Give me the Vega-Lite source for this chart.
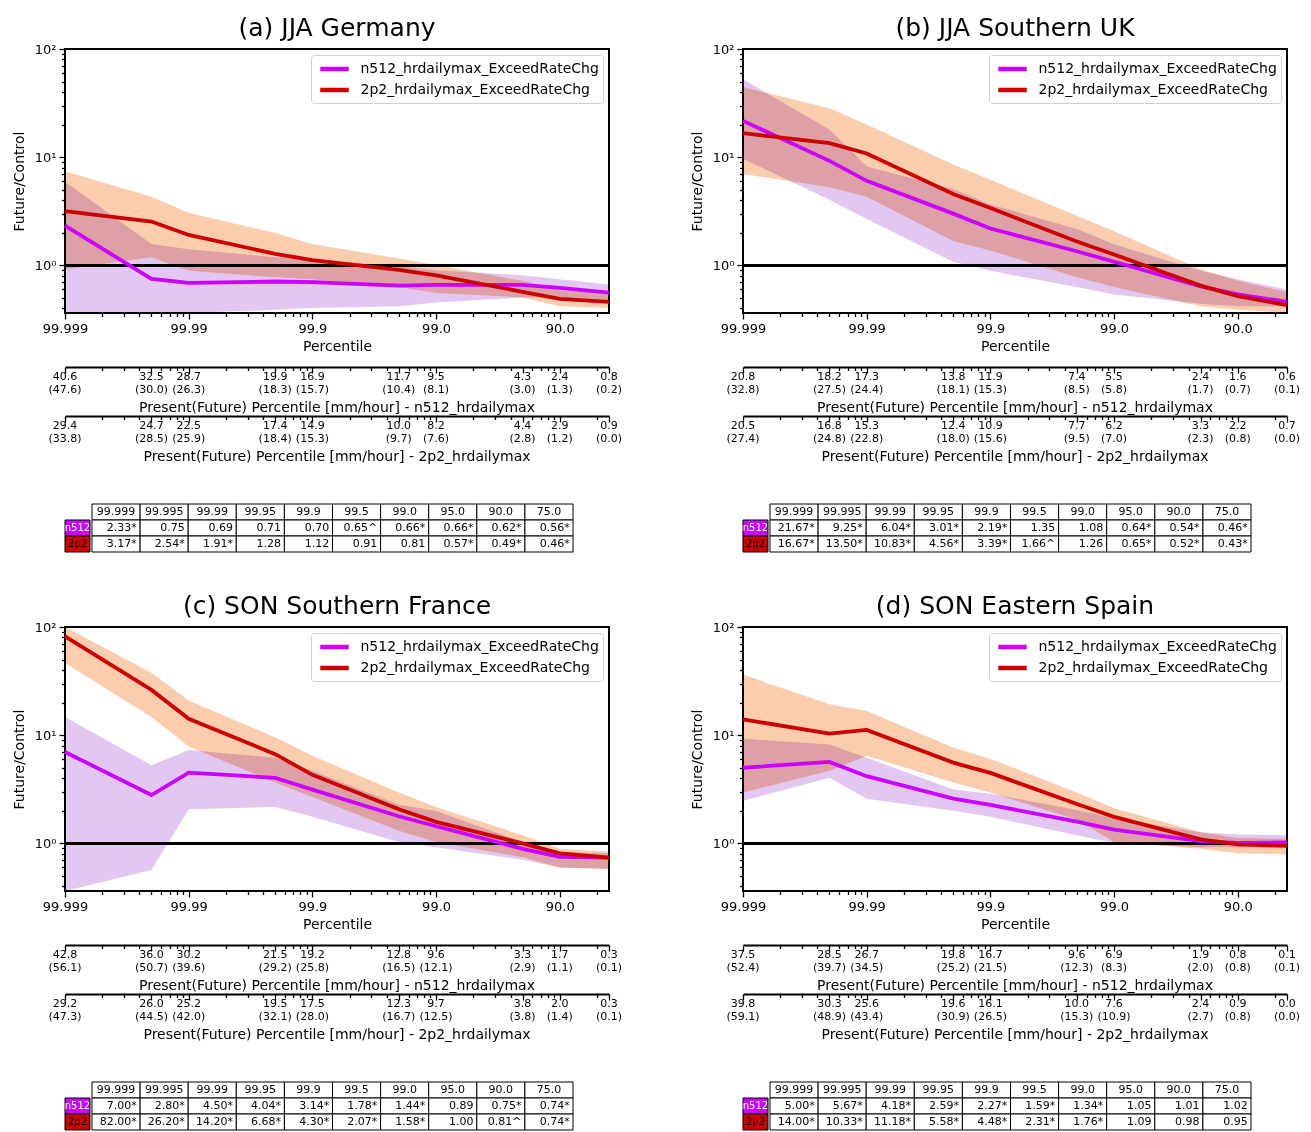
{
"$schema": "https://vega.github.io/schema/vega-lite/v6.json",
"background": "white",
"padding": {"left": 11, "top": 15, "right": 5, "bottom": 2},
"config": {
  "font": "DejaVu Sans",
  "view": {"stroke": null},
  "axis": {"labelFont": "DejaVu Sans", "titleFont": "DejaVu Sans", "labelColor": "black", "titleColor": "black", "tickColor": "black", "domainColor": "black", "grid": false, "titleFontWeight": "normal", "labelOverlap": false, "labelBound": false, "labelFlush": false},
  "title": {"font": "DejaVu Sans", "fontWeight": "normal", "color": "black"},
  "text": {"font": "DejaVu Sans", "color": "black"},
  "legend": {"labelFont": "DejaVu Sans", "labelColor": "black"}
},
"datasets": {"curves": [
{"panel":"a","model":"n512","pct":"99.999","exc":0.001,"ratio":2.33,"sig":"*","lo":0.305,"hi":5.94,"present":40.6,"future":47.6},
{"panel":"a","model":"n512","pct":"99.995","exc":0.005,"ratio":0.75,"sig":"","lo":0.293,"hi":1.58,"present":32.5,"future":30.0},
{"panel":"a","model":"n512","pct":"99.99","exc":0.01,"ratio":0.69,"sig":"","lo":0.305,"hi":1.41,"present":28.7,"future":26.3},
{"panel":"a","model":"n512","pct":"99.95","exc":0.05,"ratio":0.71,"sig":"","lo":0.388,"hi":1.19,"present":19.9,"future":18.3},
{"panel":"a","model":"n512","pct":"99.9","exc":0.1,"ratio":0.70,"sig":"","lo":0.404,"hi":1.12,"present":16.9,"future":15.7},
{"panel":"a","model":"n512","pct":"99.5","exc":0.5,"ratio":0.65,"sig":"^","lo":0.42,"hi":0.986,"present":11.7,"future":10.4},
{"panel":"a","model":"n512","pct":"99.0","exc":1,"ratio":0.66,"sig":"*","lo":0.454,"hi":0.90,"present":9.5,"future":8.1},
{"panel":"a","model":"n512","pct":"95.0","exc":5,"ratio":0.66,"sig":"*","lo":0.506,"hi":0.81,"present":4.3,"future":3.0},
{"panel":"a","model":"n512","pct":"90.0","exc":10,"ratio":0.62,"sig":"*","lo":0.506,"hi":0.745,"present":2.4,"future":1.3},
{"panel":"a","model":"n512","pct":"75.0","exc":25,"ratio":0.56,"sig":"*","lo":0.473,"hi":0.667,"present":0.8,"future":0.2},
{"panel":"a","model":"2p2","pct":"99.999","exc":0.001,"ratio":3.17,"sig":"*","lo":0.92,"hi":7.4,"present":29.4,"future":33.8},
{"panel":"a","model":"2p2","pct":"99.995","exc":0.005,"ratio":2.54,"sig":"*","lo":1.19,"hi":4.30,"present":24.7,"future":28.5},
{"panel":"a","model":"2p2","pct":"99.99","exc":0.01,"ratio":1.91,"sig":"*","lo":0.89,"hi":3.07,"present":22.5,"future":25.9},
{"panel":"a","model":"2p2","pct":"99.95","exc":0.05,"ratio":1.28,"sig":"","lo":0.776,"hi":1.99,"present":17.4,"future":18.4},
{"panel":"a","model":"2p2","pct":"99.9","exc":0.1,"ratio":1.12,"sig":"","lo":0.745,"hi":1.58,"present":14.9,"future":15.3},
{"panel":"a","model":"2p2","pct":"99.5","exc":0.5,"ratio":0.91,"sig":"","lo":0.63,"hi":1.16,"present":10.0,"future":9.7},
{"panel":"a","model":"2p2","pct":"99.0","exc":1,"ratio":0.81,"sig":"","lo":0.555,"hi":1.01,"present":8.2,"future":7.6},
{"panel":"a","model":"2p2","pct":"95.0","exc":5,"ratio":0.57,"sig":"*","lo":0.506,"hi":0.72,"present":4.4,"future":2.8},
{"panel":"a","model":"2p2","pct":"90.0","exc":10,"ratio":0.49,"sig":"*","lo":0.42,"hi":0.586,"present":2.9,"future":1.2},
{"panel":"a","model":"2p2","pct":"75.0","exc":25,"ratio":0.46,"sig":"*","lo":0.404,"hi":0.555,"present":0.9,"future":0.0},
{"panel":"b","model":"n512","pct":"99.999","exc":0.001,"ratio":21.67,"sig":"*","lo":9.68,"hi":52.4,"present":20.8,"future":32.8},
{"panel":"b","model":"n512","pct":"99.995","exc":0.005,"ratio":9.25,"sig":"*","lo":4.04,"hi":18.0,"present":18.2,"future":27.5},
{"panel":"b","model":"n512","pct":"99.99","exc":0.01,"ratio":6.04,"sig":"*","lo":2.69,"hi":8.2,"present":17.3,"future":24.4},
{"panel":"b","model":"n512","pct":"99.95","exc":0.05,"ratio":3.01,"sig":"*","lo":1.08,"hi":5.08,"present":13.8,"future":18.1},
{"panel":"b","model":"n512","pct":"99.9","exc":0.1,"ratio":2.19,"sig":"*","lo":0.89,"hi":3.66,"present":11.9,"future":15.3},
{"panel":"b","model":"n512","pct":"99.5","exc":0.5,"ratio":1.35,"sig":"","lo":0.63,"hi":2.17,"present":7.4,"future":8.5},
{"panel":"b","model":"n512","pct":"99.0","exc":1,"ratio":1.08,"sig":"","lo":0.537,"hi":1.57,"present":5.5,"future":5.8},
{"panel":"b","model":"n512","pct":"95.0","exc":5,"ratio":0.64,"sig":"*","lo":0.443,"hi":0.89,"present":2.4,"future":1.7},
{"panel":"b","model":"n512","pct":"90.0","exc":10,"ratio":0.54,"sig":"*","lo":0.42,"hi":0.745,"present":1.6,"future":0.7},
{"panel":"b","model":"n512","pct":"75.0","exc":25,"ratio":0.46,"sig":"*","lo":0.42,"hi":0.598,"present":0.6,"future":0.1},
{"panel":"b","model":"2p2","pct":"99.999","exc":0.001,"ratio":16.67,"sig":"*","lo":7.0,"hi":44.5,"present":20.5,"future":27.4},
{"panel":"b","model":"2p2","pct":"99.995","exc":0.005,"ratio":13.50,"sig":"*","lo":5.28,"hi":28.4,"present":16.8,"future":24.8},
{"panel":"b","model":"2p2","pct":"99.99","exc":0.01,"ratio":10.83,"sig":"*","lo":4.30,"hi":20.1,"present":15.3,"future":22.8},
{"panel":"b","model":"2p2","pct":"99.95","exc":0.05,"ratio":4.56,"sig":"*","lo":1.68,"hi":8.54,"present":12.4,"future":18.0},
{"panel":"b","model":"2p2","pct":"99.9","exc":0.1,"ratio":3.39,"sig":"*","lo":1.37,"hi":6.19,"present":10.9,"future":15.6},
{"panel":"b","model":"2p2","pct":"99.5","exc":0.5,"ratio":1.66,"sig":"^","lo":0.776,"hi":2.88,"present":7.7,"future":9.5},
{"panel":"b","model":"2p2","pct":"99.0","exc":1,"ratio":1.26,"sig":"","lo":0.63,"hi":2.07,"present":6.2,"future":7.0},
{"panel":"b","model":"2p2","pct":"95.0","exc":5,"ratio":0.65,"sig":"*","lo":0.42,"hi":0.92,"present":3.3,"future":2.3},
{"panel":"b","model":"2p2","pct":"90.0","exc":10,"ratio":0.52,"sig":"*","lo":0.388,"hi":0.72,"present":2.2,"future":0.8},
{"panel":"b","model":"2p2","pct":"75.0","exc":25,"ratio":0.43,"sig":"*","lo":0.366,"hi":0.567,"present":0.7,"future":0.0},
{"panel":"c","model":"n512","pct":"99.999","exc":0.001,"ratio":7.00,"sig":"*","lo":0.27,"hi":14.7,"present":42.8,"future":56.1},
{"panel":"c","model":"n512","pct":"99.995","exc":0.005,"ratio":2.80,"sig":"*","lo":0.567,"hi":5.28,"present":36.0,"future":50.7},
{"panel":"c","model":"n512","pct":"99.99","exc":0.01,"ratio":4.50,"sig":"*","lo":2.07,"hi":7.28,"present":30.2,"future":39.6},
{"panel":"c","model":"n512","pct":"99.95","exc":0.05,"ratio":4.04,"sig":"*","lo":2.17,"hi":6.19,"present":21.5,"future":29.2},
{"panel":"c","model":"n512","pct":"99.9","exc":0.1,"ratio":3.14,"sig":"*","lo":1.76,"hi":4.68,"present":19.2,"future":25.8},
{"panel":"c","model":"n512","pct":"99.5","exc":0.5,"ratio":1.78,"sig":"*","lo":1.03,"hi":2.27,"present":12.8,"future":16.5},
{"panel":"c","model":"n512","pct":"99.0","exc":1,"ratio":1.44,"sig":"*","lo":0.92,"hi":1.99,"present":9.6,"future":12.1},
{"panel":"c","model":"n512","pct":"95.0","exc":5,"ratio":0.89,"sig":"","lo":0.705,"hi":1.03,"present":3.3,"future":2.9},
{"panel":"c","model":"n512","pct":"90.0","exc":10,"ratio":0.75,"sig":"*","lo":0.598,"hi":0.836,"present":1.7,"future":1.1},
{"panel":"c","model":"n512","pct":"75.0","exc":25,"ratio":0.74,"sig":"*","lo":0.58,"hi":0.81,"present":0.3,"future":0.1},
{"panel":"c","model":"2p2","pct":"99.999","exc":0.001,"ratio":82.00,"sig":"*","lo":46.4,"hi":107,"present":29.2,"future":47.3},
{"panel":"c","model":"2p2","pct":"99.995","exc":0.005,"ratio":26.20,"sig":"*","lo":14.7,"hi":37.8,"present":26.0,"future":44.5},
{"panel":"c","model":"2p2","pct":"99.99","exc":0.01,"ratio":14.20,"sig":"*","lo":7.88,"hi":20.9,"present":25.2,"future":42.0},
{"panel":"c","model":"2p2","pct":"99.95","exc":0.05,"ratio":6.68,"sig":"*","lo":3.66,"hi":9.55,"present":19.5,"future":32.1},
{"panel":"c","model":"2p2","pct":"99.9","exc":0.1,"ratio":4.30,"sig":"*","lo":2.69,"hi":6.45,"present":17.5,"future":28.0},
{"panel":"c","model":"2p2","pct":"99.5","exc":0.5,"ratio":2.07,"sig":"*","lo":1.31,"hi":2.96,"present":12.3,"future":16.7},
{"panel":"c","model":"2p2","pct":"99.0","exc":1,"ratio":1.58,"sig":"*","lo":1.03,"hi":2.17,"present":9.7,"future":12.5},
{"panel":"c","model":"2p2","pct":"95.0","exc":5,"ratio":1.00,"sig":"","lo":0.745,"hi":1.19,"present":3.8,"future":3.8},
{"panel":"c","model":"2p2","pct":"90.0","exc":10,"ratio":0.81,"sig":"^","lo":0.598,"hi":0.89,"present":2.0,"future":1.4},
{"panel":"c","model":"2p2","pct":"75.0","exc":25,"ratio":0.74,"sig":"*","lo":0.58,"hi":0.836,"present":0.3,"future":0.1},
{"panel":"d","model":"n512","pct":"99.999","exc":0.001,"ratio":5.00,"sig":"*","lo":2.47,"hi":9.25,"present":37.5,"future":52.4},
{"panel":"d","model":"n512","pct":"99.995","exc":0.005,"ratio":5.67,"sig":"*","lo":4.04,"hi":8.2,"present":28.5,"future":39.7},
{"panel":"d","model":"n512","pct":"99.99","exc":0.01,"ratio":4.18,"sig":"*","lo":2.58,"hi":6.19,"present":26.7,"future":34.5},
{"panel":"d","model":"n512","pct":"99.95","exc":0.05,"ratio":2.59,"sig":"*","lo":2.0,"hi":3.15,"present":19.8,"future":25.2},
{"panel":"d","model":"n512","pct":"99.9","exc":0.1,"ratio":2.27,"sig":"*","lo":1.76,"hi":2.88,"present":16.7,"future":21.5},
{"panel":"d","model":"n512","pct":"99.5","exc":0.5,"ratio":1.59,"sig":"*","lo":1.19,"hi":2.03,"present":9.6,"future":12.3},
{"panel":"d","model":"n512","pct":"99.0","exc":1,"ratio":1.34,"sig":"*","lo":1.01,"hi":1.71,"present":6.9,"future":8.3},
{"panel":"d","model":"n512","pct":"95.0","exc":5,"ratio":1.05,"sig":"","lo":0.92,"hi":1.27,"present":1.9,"future":2.0},
{"panel":"d","model":"n512","pct":"90.0","exc":10,"ratio":1.01,"sig":"","lo":0.92,"hi":1.21,"present":0.8,"future":0.8},
{"panel":"d","model":"n512","pct":"75.0","exc":25,"ratio":1.02,"sig":"","lo":0.92,"hi":1.19,"present":0.1,"future":0.1},
{"panel":"d","model":"2p2","pct":"99.999","exc":0.001,"ratio":14.00,"sig":"*","lo":2.96,"hi":36.3,"present":39.8,"future":59.1},
{"panel":"d","model":"2p2","pct":"99.995","exc":0.005,"ratio":10.33,"sig":"*","lo":4.68,"hi":19.3,"present":30.3,"future":48.9},
{"panel":"d","model":"2p2","pct":"99.99","exc":0.01,"ratio":11.18,"sig":"*","lo":6.45,"hi":16.7,"present":25.6,"future":43.4},
{"panel":"d","model":"2p2","pct":"99.95","exc":0.05,"ratio":5.58,"sig":"*","lo":3.66,"hi":7.7,"present":19.6,"future":30.9},
{"panel":"d","model":"2p2","pct":"99.9","exc":0.1,"ratio":4.48,"sig":"*","lo":2.96,"hi":6.04,"present":16.1,"future":26.5},
{"panel":"d","model":"2p2","pct":"99.5","exc":0.5,"ratio":2.31,"sig":"*","lo":1.65,"hi":2.96,"present":10.0,"future":15.3},
{"panel":"d","model":"2p2","pct":"99.0","exc":1,"ratio":1.76,"sig":"*","lo":1.03,"hi":2.11,"present":7.6,"future":10.9},
{"panel":"d","model":"2p2","pct":"95.0","exc":5,"ratio":1.09,"sig":"","lo":0.89,"hi":1.27,"present":2.4,"future":2.7},
{"panel":"d","model":"2p2","pct":"90.0","exc":10,"ratio":0.98,"sig":"","lo":0.81,"hi":1.12,"present":0.9,"future":0.8},
{"panel":"d","model":"2p2","pct":"75.0","exc":25,"ratio":0.95,"sig":"","lo":0.79,"hi":1.10,"present":0.0,"future":0.0}
]},
"vconcat": [
 {"hconcat": [
  {"vconcat": [
   {"width": 544, "height": 264,
    "title": {"text": "(a) JJA Germany", "fontSize": 25, "offset": 2},
    "view": {"stroke": "black", "strokeWidth": 2},
    "data": {"name": "curves"},
    "transform": [{"filter": "datum.panel == 'a'"}],
    "layer": [
     {"transform": [{"filter": "datum.model == 'n512'"}],
      "mark": {"type": "area", "color": "#e2c8f0", "blend": "multiply"},
      "encoding": {
       "x": {"field": "exc", "type": "quantitative", "title": "Percentile", "scale": {"type": "log", "domain": [0.001, 25], "nice": false},
             "axis": {"values": [0.001,0.002,0.003,0.004,0.005,0.006,0.007,0.008,0.009,0.01,0.02,0.03,0.04,0.05,0.06,0.07,0.08,0.09,0.1,0.2,0.3,0.4,0.5,0.6,0.7,0.8,0.9,1,2,3,4,5,6,7,8,9,10,20],
                      "labelExpr": "datum.value == 0.001 ? '99.999' : datum.value == 0.01 ? '99.99' : datum.value == 0.1 ? '99.9' : datum.value == 1 ? '99.0' : datum.value == 10 ? '90.0' : ''",
                      "tickSize": {"condition": {"test": "datum.value == 0.001 || datum.value == 0.01 || datum.value == 0.1 || datum.value == 1 || datum.value == 10", "value": 6}, "value": 3.5},
                      "tickWidth": 1.3, "domain": false, "labelFontSize": 13, "titleFontSize": 14, "labelPadding": 3, "titlePadding": 4}},
       "y": {"field": "lo", "type": "quantitative", "title": "Future/Control", "scale": {"type": "log", "domain": [0.363, 100], "nice": false, "clamp": true},
             "axis": {"values": [0.4,0.5,0.6,0.7,0.8,0.9,1,2,3,4,5,6,7,8,9,10,20,30,40,50,60,70,80,90,100],
                      "labelExpr": "datum.value == 1 ? '10⁰' : datum.value == 10 ? '10¹' : datum.value == 100 ? '10²' : ''",
                      "tickSize": {"condition": {"test": "datum.value == 1 || datum.value == 10 || datum.value == 100", "value": 6}, "value": 3.5},
                      "tickWidth": 1.3, "domain": false, "labelFontSize": 13, "titleFontSize": 14, "labelPadding": 3, "titlePadding": 8}},
       "y2": {"field": "hi"}}},
     {"transform": [{"filter": "datum.model == '2p2'"}],
      "mark": {"type": "area", "color": "#facdaf", "blend": "multiply"},
      "encoding": {"x": {"field": "exc", "type": "quantitative", "title": "Percentile"}, "y": {"field": "lo", "type": "quantitative", "title": "Future/Control"}, "y2": {"field": "hi"}}},
     {"mark": {"type": "rule", "color": "black", "strokeWidth": 2.5}, "encoding": {"y": {"datum": 1, "type": "quantitative"}}},
     {"mark": {"type": "line", "strokeWidth": 3.8},
      "encoding": {"x": {"field": "exc", "type": "quantitative", "title": "Percentile"}, "y": {"field": "ratio", "type": "quantitative", "title": "Future/Control"},
       "color": {"field": "model", "type": "nominal", "scale": {"domain": ["n512", "2p2"], "range": ["#cc00ff", "#cc0000"]},
                 "legend": {"orient": "top-right", "title": null, "offset": 6, "labelExpr": "datum.label + '_hrdailymax_ExceedRateChg'", "labelFontSize": 14, "labelLimit": 400, "symbolType": "M-1.9,0H1.9", "symbolStrokeWidth": 4.5, "symbolSize": 225, "symbolOffset": 9.5, "strokeColor": "#d0d0d0", "fillColor": "white", "padding": 4, "cornerRadius": 3, "rowPadding": 2, "labelOffset": 16}}}}
    ]},
   {"vconcat": [
    {"vconcat": [
     {"width": 544, "height": 32.5,
      "title": {"text": "Present(Future) Percentile [mm/hour] - n512_hrdailymax", "orient": "bottom", "fontSize": 14, "offset": 1},
      "data": {"name": "curves"},
      "transform": [{"filter": "datum.panel == 'a' && datum.model == 'n512'"}],
      "layer": [
       {"mark": {"type": "text", "fontSize": 11},
        "encoding": {
         "x": {"field": "exc", "type": "quantitative", "scale": {"type": "log", "domain": [0.001, 25], "nice": false},
               "axis": {"orient": "top", "values": [0.001,0.002,0.003,0.004,0.005,0.006,0.007,0.008,0.009,0.01,0.02,0.03,0.04,0.05,0.06,0.07,0.08,0.09,0.1,0.2,0.3,0.4,0.5,0.6,0.7,0.8,0.9,1,2,3,4,5,6,7,8,9,10,20,25],
                        "labels": false, "title": null, "domain": true, "domainWidth": 2, "tickWidth": 1.3,
                        "tickSize": {"condition": {"test": "indexof([0.001,0.005,0.01,0.05,0.1,0.5,1,5,10,25], datum.value) >= 0", "value": -6}, "value": -3.5}}},
         "y": {"datum": "present", "type": "nominal", "scale": {"type": "point", "domain": ["present", "future"], "padding": 0.75}, "axis": null},
         "text": {"field": "present", "type": "quantitative", "format": ".1f"}}},
       {"mark": {"type": "text", "fontSize": 11, "text": {"expr": "'(' + format(datum.future, '.1f') + ')'"}},
        "encoding": {"x": {"field": "exc", "type": "quantitative"}, "y": {"datum": "future", "type": "nominal"}}}
      ]},
     {"width": 544, "height": 32.5,
      "title": {"text": "Present(Future) Percentile [mm/hour] - 2p2_hrdailymax", "orient": "bottom", "fontSize": 14, "offset": 1},
      "data": {"name": "curves"},
      "transform": [{"filter": "datum.panel == 'a' && datum.model == '2p2'"}],
      "layer": [
       {"mark": {"type": "text", "fontSize": 11},
        "encoding": {
         "x": {"field": "exc", "type": "quantitative", "scale": {"type": "log", "domain": [0.001, 25], "nice": false},
               "axis": {"orient": "top", "values": [0.001,0.002,0.003,0.004,0.005,0.006,0.007,0.008,0.009,0.01,0.02,0.03,0.04,0.05,0.06,0.07,0.08,0.09,0.1,0.2,0.3,0.4,0.5,0.6,0.7,0.8,0.9,1,2,3,4,5,6,7,8,9,10,20,25],
                        "labels": false, "title": null, "domain": true, "domainWidth": 2, "tickWidth": 1.3,
                        "tickSize": {"condition": {"test": "indexof([0.001,0.005,0.01,0.05,0.1,0.5,1,5,10,25], datum.value) >= 0", "value": -6}, "value": -3.5}}},
         "y": {"datum": "present", "type": "nominal", "scale": {"type": "point", "domain": ["present", "future"], "padding": 0.75}, "axis": null},
         "text": {"field": "present", "type": "quantitative", "format": ".1f"}}},
       {"mark": {"type": "text", "fontSize": 11, "text": {"expr": "'(' + format(datum.future, '.1f') + ')'"}},
        "encoding": {"x": {"field": "exc", "type": "quantitative"}, "y": {"datum": "future", "type": "nominal"}}}
      ]}
    ], "spacing": 0},
    {"hconcat": [
     {"width": 25, "height": 48,
      "data": {"name": "curves"},
      "transform": [{"filter": "datum.panel == 'a' && datum.pct == '99.999'"}],
      "encoding": {"y": {"field": "model", "type": "nominal", "scale": {"type": "band", "domain": ["hdr", "n512", "2p2"], "paddingInner": 0, "paddingOuter": 0}, "axis": null}},
      "layer": [
       {"mark": {"type": "rect", "stroke": "black", "strokeWidth": 1}, "encoding": {"fill": {"field": "model", "type": "nominal", "scale": {"domain": ["n512", "2p2"], "range": ["#cc00ff", "#cc0000"]}, "legend": null}}},
       {"mark": {"type": "text", "fontSize": 10}, "encoding": {"text": {"field": "model", "type": "nominal"}, "color": {"field": "model", "type": "nominal", "scale": {"domain": ["n512", "2p2"], "range": ["#ffffff", "#000000"]}, "legend": null}}}
      ]},
     {"width": 481, "height": 48,
      "data": {"name": "curves"},
      "transform": [{"filter": "datum.panel == 'a'"}],
      "encoding": {"x": {"field": "pct", "type": "ordinal", "sort": ["99.999","99.995","99.99","99.95","99.9","99.5","99.0","95.0","90.0","75.0"], "scale": {"paddingInner": 0, "paddingOuter": 0}, "axis": null}},
      "layer": [
       {"transform": [{"filter": "datum.model == 'n512'"}], "mark": {"type": "rect", "fill": "white", "stroke": "black", "strokeWidth": 1},
        "encoding": {"y": {"datum": "hdr", "type": "nominal", "scale": {"type": "band", "domain": ["hdr", "n512", "2p2"], "paddingInner": 0, "paddingOuter": 0}, "axis": null}}},
       {"transform": [{"filter": "datum.model == 'n512'"}], "mark": {"type": "text", "fontSize": 11},
        "encoding": {"y": {"datum": "hdr", "type": "nominal"}, "text": {"field": "pct", "type": "nominal"}}},
       {"mark": {"type": "rect", "fill": "white", "stroke": "black", "strokeWidth": 1}, "encoding": {"y": {"field": "model", "type": "nominal"}}},
       {"mark": {"type": "text", "fontSize": 11, "align": "right", "text": {"expr": "format(datum.ratio, '.2f') + datum.sig"}},
        "encoding": {"y": {"field": "model", "type": "nominal"}, "x": {"field": "pct", "type": "ordinal", "sort": ["99.999","99.995","99.99","99.95","99.9","99.5","99.0","95.0","90.0","75.0"], "bandPosition": 0.93}}}
      ]}
    ], "spacing": 0, "resolve": {"scale": {"color": "independent", "fill": "independent"}, "legend": {"color": "independent", "fill": "independent"}}}
   ], "spacing": 39, "resolve": {"scale": {"color": "independent", "fill": "independent"}, "legend": {"color": "independent", "fill": "independent"}}}
  ], "spacing": 12, "resolve": {"scale": {"color": "independent", "fill": "independent"}, "legend": {"color": "independent", "fill": "independent"}}},
  {"vconcat": [
   {"width": 544, "height": 264,
    "title": {"text": "(b) JJA Southern UK", "fontSize": 25, "offset": 2},
    "view": {"stroke": "black", "strokeWidth": 2},
    "data": {"name": "curves"},
    "transform": [{"filter": "datum.panel == 'b'"}],
    "layer": [
     {"transform": [{"filter": "datum.model == 'n512'"}],
      "mark": {"type": "area", "color": "#e2c8f0", "blend": "multiply"},
      "encoding": {
       "x": {"field": "exc", "type": "quantitative", "title": "Percentile", "scale": {"type": "log", "domain": [0.001, 25], "nice": false},
             "axis": {"values": [0.001,0.002,0.003,0.004,0.005,0.006,0.007,0.008,0.009,0.01,0.02,0.03,0.04,0.05,0.06,0.07,0.08,0.09,0.1,0.2,0.3,0.4,0.5,0.6,0.7,0.8,0.9,1,2,3,4,5,6,7,8,9,10,20],
                      "labelExpr": "datum.value == 0.001 ? '99.999' : datum.value == 0.01 ? '99.99' : datum.value == 0.1 ? '99.9' : datum.value == 1 ? '99.0' : datum.value == 10 ? '90.0' : ''",
                      "tickSize": {"condition": {"test": "datum.value == 0.001 || datum.value == 0.01 || datum.value == 0.1 || datum.value == 1 || datum.value == 10", "value": 6}, "value": 3.5},
                      "tickWidth": 1.3, "domain": false, "labelFontSize": 13, "titleFontSize": 14, "labelPadding": 3, "titlePadding": 4}},
       "y": {"field": "lo", "type": "quantitative", "title": "Future/Control", "scale": {"type": "log", "domain": [0.363, 100], "nice": false, "clamp": true},
             "axis": {"values": [0.4,0.5,0.6,0.7,0.8,0.9,1,2,3,4,5,6,7,8,9,10,20,30,40,50,60,70,80,90,100],
                      "labelExpr": "datum.value == 1 ? '10⁰' : datum.value == 10 ? '10¹' : datum.value == 100 ? '10²' : ''",
                      "tickSize": {"condition": {"test": "datum.value == 1 || datum.value == 10 || datum.value == 100", "value": 6}, "value": 3.5},
                      "tickWidth": 1.3, "domain": false, "labelFontSize": 13, "titleFontSize": 14, "labelPadding": 3, "titlePadding": 8}},
       "y2": {"field": "hi"}}},
     {"transform": [{"filter": "datum.model == '2p2'"}],
      "mark": {"type": "area", "color": "#facdaf", "blend": "multiply"},
      "encoding": {"x": {"field": "exc", "type": "quantitative", "title": "Percentile"}, "y": {"field": "lo", "type": "quantitative", "title": "Future/Control"}, "y2": {"field": "hi"}}},
     {"mark": {"type": "rule", "color": "black", "strokeWidth": 2.5}, "encoding": {"y": {"datum": 1, "type": "quantitative"}}},
     {"mark": {"type": "line", "strokeWidth": 3.8},
      "encoding": {"x": {"field": "exc", "type": "quantitative", "title": "Percentile"}, "y": {"field": "ratio", "type": "quantitative", "title": "Future/Control"},
       "color": {"field": "model", "type": "nominal", "scale": {"domain": ["n512", "2p2"], "range": ["#cc00ff", "#cc0000"]},
                 "legend": {"orient": "top-right", "title": null, "offset": 6, "labelExpr": "datum.label + '_hrdailymax_ExceedRateChg'", "labelFontSize": 14, "labelLimit": 400, "symbolType": "M-1.9,0H1.9", "symbolStrokeWidth": 4.5, "symbolSize": 225, "symbolOffset": 9.5, "strokeColor": "#d0d0d0", "fillColor": "white", "padding": 4, "cornerRadius": 3, "rowPadding": 2, "labelOffset": 16}}}}
    ]},
   {"vconcat": [
    {"vconcat": [
     {"width": 544, "height": 32.5,
      "title": {"text": "Present(Future) Percentile [mm/hour] - n512_hrdailymax", "orient": "bottom", "fontSize": 14, "offset": 1},
      "data": {"name": "curves"},
      "transform": [{"filter": "datum.panel == 'b' && datum.model == 'n512'"}],
      "layer": [
       {"mark": {"type": "text", "fontSize": 11},
        "encoding": {
         "x": {"field": "exc", "type": "quantitative", "scale": {"type": "log", "domain": [0.001, 25], "nice": false},
               "axis": {"orient": "top", "values": [0.001,0.002,0.003,0.004,0.005,0.006,0.007,0.008,0.009,0.01,0.02,0.03,0.04,0.05,0.06,0.07,0.08,0.09,0.1,0.2,0.3,0.4,0.5,0.6,0.7,0.8,0.9,1,2,3,4,5,6,7,8,9,10,20,25],
                        "labels": false, "title": null, "domain": true, "domainWidth": 2, "tickWidth": 1.3,
                        "tickSize": {"condition": {"test": "indexof([0.001,0.005,0.01,0.05,0.1,0.5,1,5,10,25], datum.value) >= 0", "value": -6}, "value": -3.5}}},
         "y": {"datum": "present", "type": "nominal", "scale": {"type": "point", "domain": ["present", "future"], "padding": 0.75}, "axis": null},
         "text": {"field": "present", "type": "quantitative", "format": ".1f"}}},
       {"mark": {"type": "text", "fontSize": 11, "text": {"expr": "'(' + format(datum.future, '.1f') + ')'"}},
        "encoding": {"x": {"field": "exc", "type": "quantitative"}, "y": {"datum": "future", "type": "nominal"}}}
      ]},
     {"width": 544, "height": 32.5,
      "title": {"text": "Present(Future) Percentile [mm/hour] - 2p2_hrdailymax", "orient": "bottom", "fontSize": 14, "offset": 1},
      "data": {"name": "curves"},
      "transform": [{"filter": "datum.panel == 'b' && datum.model == '2p2'"}],
      "layer": [
       {"mark": {"type": "text", "fontSize": 11},
        "encoding": {
         "x": {"field": "exc", "type": "quantitative", "scale": {"type": "log", "domain": [0.001, 25], "nice": false},
               "axis": {"orient": "top", "values": [0.001,0.002,0.003,0.004,0.005,0.006,0.007,0.008,0.009,0.01,0.02,0.03,0.04,0.05,0.06,0.07,0.08,0.09,0.1,0.2,0.3,0.4,0.5,0.6,0.7,0.8,0.9,1,2,3,4,5,6,7,8,9,10,20,25],
                        "labels": false, "title": null, "domain": true, "domainWidth": 2, "tickWidth": 1.3,
                        "tickSize": {"condition": {"test": "indexof([0.001,0.005,0.01,0.05,0.1,0.5,1,5,10,25], datum.value) >= 0", "value": -6}, "value": -3.5}}},
         "y": {"datum": "present", "type": "nominal", "scale": {"type": "point", "domain": ["present", "future"], "padding": 0.75}, "axis": null},
         "text": {"field": "present", "type": "quantitative", "format": ".1f"}}},
       {"mark": {"type": "text", "fontSize": 11, "text": {"expr": "'(' + format(datum.future, '.1f') + ')'"}},
        "encoding": {"x": {"field": "exc", "type": "quantitative"}, "y": {"datum": "future", "type": "nominal"}}}
      ]}
    ], "spacing": 0},
    {"hconcat": [
     {"width": 25, "height": 48,
      "data": {"name": "curves"},
      "transform": [{"filter": "datum.panel == 'b' && datum.pct == '99.999'"}],
      "encoding": {"y": {"field": "model", "type": "nominal", "scale": {"type": "band", "domain": ["hdr", "n512", "2p2"], "paddingInner": 0, "paddingOuter": 0}, "axis": null}},
      "layer": [
       {"mark": {"type": "rect", "stroke": "black", "strokeWidth": 1}, "encoding": {"fill": {"field": "model", "type": "nominal", "scale": {"domain": ["n512", "2p2"], "range": ["#cc00ff", "#cc0000"]}, "legend": null}}},
       {"mark": {"type": "text", "fontSize": 10}, "encoding": {"text": {"field": "model", "type": "nominal"}, "color": {"field": "model", "type": "nominal", "scale": {"domain": ["n512", "2p2"], "range": ["#ffffff", "#000000"]}, "legend": null}}}
      ]},
     {"width": 481, "height": 48,
      "data": {"name": "curves"},
      "transform": [{"filter": "datum.panel == 'b'"}],
      "encoding": {"x": {"field": "pct", "type": "ordinal", "sort": ["99.999","99.995","99.99","99.95","99.9","99.5","99.0","95.0","90.0","75.0"], "scale": {"paddingInner": 0, "paddingOuter": 0}, "axis": null}},
      "layer": [
       {"transform": [{"filter": "datum.model == 'n512'"}], "mark": {"type": "rect", "fill": "white", "stroke": "black", "strokeWidth": 1},
        "encoding": {"y": {"datum": "hdr", "type": "nominal", "scale": {"type": "band", "domain": ["hdr", "n512", "2p2"], "paddingInner": 0, "paddingOuter": 0}, "axis": null}}},
       {"transform": [{"filter": "datum.model == 'n512'"}], "mark": {"type": "text", "fontSize": 11},
        "encoding": {"y": {"datum": "hdr", "type": "nominal"}, "text": {"field": "pct", "type": "nominal"}}},
       {"mark": {"type": "rect", "fill": "white", "stroke": "black", "strokeWidth": 1}, "encoding": {"y": {"field": "model", "type": "nominal"}}},
       {"mark": {"type": "text", "fontSize": 11, "align": "right", "text": {"expr": "format(datum.ratio, '.2f') + datum.sig"}},
        "encoding": {"y": {"field": "model", "type": "nominal"}, "x": {"field": "pct", "type": "ordinal", "sort": ["99.999","99.995","99.99","99.95","99.9","99.5","99.0","95.0","90.0","75.0"], "bandPosition": 0.93}}}
      ]}
    ], "spacing": 0, "resolve": {"scale": {"color": "independent", "fill": "independent"}, "legend": {"color": "independent", "fill": "independent"}}}
   ], "spacing": 39, "resolve": {"scale": {"color": "independent", "fill": "independent"}, "legend": {"color": "independent", "fill": "independent"}}}
  ], "spacing": 12, "resolve": {"scale": {"color": "independent", "fill": "independent"}, "legend": {"color": "independent", "fill": "independent"}}}
 ], "spacing": 66, "resolve": {"scale": {"color": "independent", "fill": "independent"}, "legend": {"color": "independent", "fill": "independent"}}},
 {"hconcat": [
  {"vconcat": [
   {"width": 544, "height": 264,
    "title": {"text": "(c) SON Southern France", "fontSize": 25, "offset": 2},
    "view": {"stroke": "black", "strokeWidth": 2},
    "data": {"name": "curves"},
    "transform": [{"filter": "datum.panel == 'c'"}],
    "layer": [
     {"transform": [{"filter": "datum.model == 'n512'"}],
      "mark": {"type": "area", "color": "#e2c8f0", "blend": "multiply"},
      "encoding": {
       "x": {"field": "exc", "type": "quantitative", "title": "Percentile", "scale": {"type": "log", "domain": [0.001, 25], "nice": false},
             "axis": {"values": [0.001,0.002,0.003,0.004,0.005,0.006,0.007,0.008,0.009,0.01,0.02,0.03,0.04,0.05,0.06,0.07,0.08,0.09,0.1,0.2,0.3,0.4,0.5,0.6,0.7,0.8,0.9,1,2,3,4,5,6,7,8,9,10,20],
                      "labelExpr": "datum.value == 0.001 ? '99.999' : datum.value == 0.01 ? '99.99' : datum.value == 0.1 ? '99.9' : datum.value == 1 ? '99.0' : datum.value == 10 ? '90.0' : ''",
                      "tickSize": {"condition": {"test": "datum.value == 0.001 || datum.value == 0.01 || datum.value == 0.1 || datum.value == 1 || datum.value == 10", "value": 6}, "value": 3.5},
                      "tickWidth": 1.3, "domain": false, "labelFontSize": 13, "titleFontSize": 14, "labelPadding": 3, "titlePadding": 4}},
       "y": {"field": "lo", "type": "quantitative", "title": "Future/Control", "scale": {"type": "log", "domain": [0.363, 100], "nice": false, "clamp": true},
             "axis": {"values": [0.4,0.5,0.6,0.7,0.8,0.9,1,2,3,4,5,6,7,8,9,10,20,30,40,50,60,70,80,90,100],
                      "labelExpr": "datum.value == 1 ? '10⁰' : datum.value == 10 ? '10¹' : datum.value == 100 ? '10²' : ''",
                      "tickSize": {"condition": {"test": "datum.value == 1 || datum.value == 10 || datum.value == 100", "value": 6}, "value": 3.5},
                      "tickWidth": 1.3, "domain": false, "labelFontSize": 13, "titleFontSize": 14, "labelPadding": 3, "titlePadding": 8}},
       "y2": {"field": "hi"}}},
     {"transform": [{"filter": "datum.model == '2p2'"}],
      "mark": {"type": "area", "color": "#facdaf", "blend": "multiply"},
      "encoding": {"x": {"field": "exc", "type": "quantitative", "title": "Percentile"}, "y": {"field": "lo", "type": "quantitative", "title": "Future/Control"}, "y2": {"field": "hi"}}},
     {"mark": {"type": "rule", "color": "black", "strokeWidth": 2.5}, "encoding": {"y": {"datum": 1, "type": "quantitative"}}},
     {"mark": {"type": "line", "strokeWidth": 3.8},
      "encoding": {"x": {"field": "exc", "type": "quantitative", "title": "Percentile"}, "y": {"field": "ratio", "type": "quantitative", "title": "Future/Control"},
       "color": {"field": "model", "type": "nominal", "scale": {"domain": ["n512", "2p2"], "range": ["#cc00ff", "#cc0000"]},
                 "legend": {"orient": "top-right", "title": null, "offset": 6, "labelExpr": "datum.label + '_hrdailymax_ExceedRateChg'", "labelFontSize": 14, "labelLimit": 400, "symbolType": "M-1.9,0H1.9", "symbolStrokeWidth": 4.5, "symbolSize": 225, "symbolOffset": 9.5, "strokeColor": "#d0d0d0", "fillColor": "white", "padding": 4, "cornerRadius": 3, "rowPadding": 2, "labelOffset": 16}}}}
    ]},
   {"vconcat": [
    {"vconcat": [
     {"width": 544, "height": 32.5,
      "title": {"text": "Present(Future) Percentile [mm/hour] - n512_hrdailymax", "orient": "bottom", "fontSize": 14, "offset": 1},
      "data": {"name": "curves"},
      "transform": [{"filter": "datum.panel == 'c' && datum.model == 'n512'"}],
      "layer": [
       {"mark": {"type": "text", "fontSize": 11},
        "encoding": {
         "x": {"field": "exc", "type": "quantitative", "scale": {"type": "log", "domain": [0.001, 25], "nice": false},
               "axis": {"orient": "top", "values": [0.001,0.002,0.003,0.004,0.005,0.006,0.007,0.008,0.009,0.01,0.02,0.03,0.04,0.05,0.06,0.07,0.08,0.09,0.1,0.2,0.3,0.4,0.5,0.6,0.7,0.8,0.9,1,2,3,4,5,6,7,8,9,10,20,25],
                        "labels": false, "title": null, "domain": true, "domainWidth": 2, "tickWidth": 1.3,
                        "tickSize": {"condition": {"test": "indexof([0.001,0.005,0.01,0.05,0.1,0.5,1,5,10,25], datum.value) >= 0", "value": -6}, "value": -3.5}}},
         "y": {"datum": "present", "type": "nominal", "scale": {"type": "point", "domain": ["present", "future"], "padding": 0.75}, "axis": null},
         "text": {"field": "present", "type": "quantitative", "format": ".1f"}}},
       {"mark": {"type": "text", "fontSize": 11, "text": {"expr": "'(' + format(datum.future, '.1f') + ')'"}},
        "encoding": {"x": {"field": "exc", "type": "quantitative"}, "y": {"datum": "future", "type": "nominal"}}}
      ]},
     {"width": 544, "height": 32.5,
      "title": {"text": "Present(Future) Percentile [mm/hour] - 2p2_hrdailymax", "orient": "bottom", "fontSize": 14, "offset": 1},
      "data": {"name": "curves"},
      "transform": [{"filter": "datum.panel == 'c' && datum.model == '2p2'"}],
      "layer": [
       {"mark": {"type": "text", "fontSize": 11},
        "encoding": {
         "x": {"field": "exc", "type": "quantitative", "scale": {"type": "log", "domain": [0.001, 25], "nice": false},
               "axis": {"orient": "top", "values": [0.001,0.002,0.003,0.004,0.005,0.006,0.007,0.008,0.009,0.01,0.02,0.03,0.04,0.05,0.06,0.07,0.08,0.09,0.1,0.2,0.3,0.4,0.5,0.6,0.7,0.8,0.9,1,2,3,4,5,6,7,8,9,10,20,25],
                        "labels": false, "title": null, "domain": true, "domainWidth": 2, "tickWidth": 1.3,
                        "tickSize": {"condition": {"test": "indexof([0.001,0.005,0.01,0.05,0.1,0.5,1,5,10,25], datum.value) >= 0", "value": -6}, "value": -3.5}}},
         "y": {"datum": "present", "type": "nominal", "scale": {"type": "point", "domain": ["present", "future"], "padding": 0.75}, "axis": null},
         "text": {"field": "present", "type": "quantitative", "format": ".1f"}}},
       {"mark": {"type": "text", "fontSize": 11, "text": {"expr": "'(' + format(datum.future, '.1f') + ')'"}},
        "encoding": {"x": {"field": "exc", "type": "quantitative"}, "y": {"datum": "future", "type": "nominal"}}}
      ]}
    ], "spacing": 0},
    {"hconcat": [
     {"width": 25, "height": 48,
      "data": {"name": "curves"},
      "transform": [{"filter": "datum.panel == 'c' && datum.pct == '99.999'"}],
      "encoding": {"y": {"field": "model", "type": "nominal", "scale": {"type": "band", "domain": ["hdr", "n512", "2p2"], "paddingInner": 0, "paddingOuter": 0}, "axis": null}},
      "layer": [
       {"mark": {"type": "rect", "stroke": "black", "strokeWidth": 1}, "encoding": {"fill": {"field": "model", "type": "nominal", "scale": {"domain": ["n512", "2p2"], "range": ["#cc00ff", "#cc0000"]}, "legend": null}}},
       {"mark": {"type": "text", "fontSize": 10}, "encoding": {"text": {"field": "model", "type": "nominal"}, "color": {"field": "model", "type": "nominal", "scale": {"domain": ["n512", "2p2"], "range": ["#ffffff", "#000000"]}, "legend": null}}}
      ]},
     {"width": 481, "height": 48,
      "data": {"name": "curves"},
      "transform": [{"filter": "datum.panel == 'c'"}],
      "encoding": {"x": {"field": "pct", "type": "ordinal", "sort": ["99.999","99.995","99.99","99.95","99.9","99.5","99.0","95.0","90.0","75.0"], "scale": {"paddingInner": 0, "paddingOuter": 0}, "axis": null}},
      "layer": [
       {"transform": [{"filter": "datum.model == 'n512'"}], "mark": {"type": "rect", "fill": "white", "stroke": "black", "strokeWidth": 1},
        "encoding": {"y": {"datum": "hdr", "type": "nominal", "scale": {"type": "band", "domain": ["hdr", "n512", "2p2"], "paddingInner": 0, "paddingOuter": 0}, "axis": null}}},
       {"transform": [{"filter": "datum.model == 'n512'"}], "mark": {"type": "text", "fontSize": 11},
        "encoding": {"y": {"datum": "hdr", "type": "nominal"}, "text": {"field": "pct", "type": "nominal"}}},
       {"mark": {"type": "rect", "fill": "white", "stroke": "black", "strokeWidth": 1}, "encoding": {"y": {"field": "model", "type": "nominal"}}},
       {"mark": {"type": "text", "fontSize": 11, "align": "right", "text": {"expr": "format(datum.ratio, '.2f') + datum.sig"}},
        "encoding": {"y": {"field": "model", "type": "nominal"}, "x": {"field": "pct", "type": "ordinal", "sort": ["99.999","99.995","99.99","99.95","99.9","99.5","99.0","95.0","90.0","75.0"], "bandPosition": 0.93}}}
      ]}
    ], "spacing": 0, "resolve": {"scale": {"color": "independent", "fill": "independent"}, "legend": {"color": "independent", "fill": "independent"}}}
   ], "spacing": 39, "resolve": {"scale": {"color": "independent", "fill": "independent"}, "legend": {"color": "independent", "fill": "independent"}}}
  ], "spacing": 12, "resolve": {"scale": {"color": "independent", "fill": "independent"}, "legend": {"color": "independent", "fill": "independent"}}},
  {"vconcat": [
   {"width": 544, "height": 264,
    "title": {"text": "(d) SON Eastern Spain", "fontSize": 25, "offset": 2},
    "view": {"stroke": "black", "strokeWidth": 2},
    "data": {"name": "curves"},
    "transform": [{"filter": "datum.panel == 'd'"}],
    "layer": [
     {"transform": [{"filter": "datum.model == 'n512'"}],
      "mark": {"type": "area", "color": "#e2c8f0", "blend": "multiply"},
      "encoding": {
       "x": {"field": "exc", "type": "quantitative", "title": "Percentile", "scale": {"type": "log", "domain": [0.001, 25], "nice": false},
             "axis": {"values": [0.001,0.002,0.003,0.004,0.005,0.006,0.007,0.008,0.009,0.01,0.02,0.03,0.04,0.05,0.06,0.07,0.08,0.09,0.1,0.2,0.3,0.4,0.5,0.6,0.7,0.8,0.9,1,2,3,4,5,6,7,8,9,10,20],
                      "labelExpr": "datum.value == 0.001 ? '99.999' : datum.value == 0.01 ? '99.99' : datum.value == 0.1 ? '99.9' : datum.value == 1 ? '99.0' : datum.value == 10 ? '90.0' : ''",
                      "tickSize": {"condition": {"test": "datum.value == 0.001 || datum.value == 0.01 || datum.value == 0.1 || datum.value == 1 || datum.value == 10", "value": 6}, "value": 3.5},
                      "tickWidth": 1.3, "domain": false, "labelFontSize": 13, "titleFontSize": 14, "labelPadding": 3, "titlePadding": 4}},
       "y": {"field": "lo", "type": "quantitative", "title": "Future/Control", "scale": {"type": "log", "domain": [0.363, 100], "nice": false, "clamp": true},
             "axis": {"values": [0.4,0.5,0.6,0.7,0.8,0.9,1,2,3,4,5,6,7,8,9,10,20,30,40,50,60,70,80,90,100],
                      "labelExpr": "datum.value == 1 ? '10⁰' : datum.value == 10 ? '10¹' : datum.value == 100 ? '10²' : ''",
                      "tickSize": {"condition": {"test": "datum.value == 1 || datum.value == 10 || datum.value == 100", "value": 6}, "value": 3.5},
                      "tickWidth": 1.3, "domain": false, "labelFontSize": 13, "titleFontSize": 14, "labelPadding": 3, "titlePadding": 8}},
       "y2": {"field": "hi"}}},
     {"transform": [{"filter": "datum.model == '2p2'"}],
      "mark": {"type": "area", "color": "#facdaf", "blend": "multiply"},
      "encoding": {"x": {"field": "exc", "type": "quantitative", "title": "Percentile"}, "y": {"field": "lo", "type": "quantitative", "title": "Future/Control"}, "y2": {"field": "hi"}}},
     {"mark": {"type": "rule", "color": "black", "strokeWidth": 2.5}, "encoding": {"y": {"datum": 1, "type": "quantitative"}}},
     {"mark": {"type": "line", "strokeWidth": 3.8},
      "encoding": {"x": {"field": "exc", "type": "quantitative", "title": "Percentile"}, "y": {"field": "ratio", "type": "quantitative", "title": "Future/Control"},
       "color": {"field": "model", "type": "nominal", "scale": {"domain": ["n512", "2p2"], "range": ["#cc00ff", "#cc0000"]},
                 "legend": {"orient": "top-right", "title": null, "offset": 6, "labelExpr": "datum.label + '_hrdailymax_ExceedRateChg'", "labelFontSize": 14, "labelLimit": 400, "symbolType": "M-1.9,0H1.9", "symbolStrokeWidth": 4.5, "symbolSize": 225, "symbolOffset": 9.5, "strokeColor": "#d0d0d0", "fillColor": "white", "padding": 4, "cornerRadius": 3, "rowPadding": 2, "labelOffset": 16}}}}
    ]},
   {"vconcat": [
    {"vconcat": [
     {"width": 544, "height": 32.5,
      "title": {"text": "Present(Future) Percentile [mm/hour] - n512_hrdailymax", "orient": "bottom", "fontSize": 14, "offset": 1},
      "data": {"name": "curves"},
      "transform": [{"filter": "datum.panel == 'd' && datum.model == 'n512'"}],
      "layer": [
       {"mark": {"type": "text", "fontSize": 11},
        "encoding": {
         "x": {"field": "exc", "type": "quantitative", "scale": {"type": "log", "domain": [0.001, 25], "nice": false},
               "axis": {"orient": "top", "values": [0.001,0.002,0.003,0.004,0.005,0.006,0.007,0.008,0.009,0.01,0.02,0.03,0.04,0.05,0.06,0.07,0.08,0.09,0.1,0.2,0.3,0.4,0.5,0.6,0.7,0.8,0.9,1,2,3,4,5,6,7,8,9,10,20,25],
                        "labels": false, "title": null, "domain": true, "domainWidth": 2, "tickWidth": 1.3,
                        "tickSize": {"condition": {"test": "indexof([0.001,0.005,0.01,0.05,0.1,0.5,1,5,10,25], datum.value) >= 0", "value": -6}, "value": -3.5}}},
         "y": {"datum": "present", "type": "nominal", "scale": {"type": "point", "domain": ["present", "future"], "padding": 0.75}, "axis": null},
         "text": {"field": "present", "type": "quantitative", "format": ".1f"}}},
       {"mark": {"type": "text", "fontSize": 11, "text": {"expr": "'(' + format(datum.future, '.1f') + ')'"}},
        "encoding": {"x": {"field": "exc", "type": "quantitative"}, "y": {"datum": "future", "type": "nominal"}}}
      ]},
     {"width": 544, "height": 32.5,
      "title": {"text": "Present(Future) Percentile [mm/hour] - 2p2_hrdailymax", "orient": "bottom", "fontSize": 14, "offset": 1},
      "data": {"name": "curves"},
      "transform": [{"filter": "datum.panel == 'd' && datum.model == '2p2'"}],
      "layer": [
       {"mark": {"type": "text", "fontSize": 11},
        "encoding": {
         "x": {"field": "exc", "type": "quantitative", "scale": {"type": "log", "domain": [0.001, 25], "nice": false},
               "axis": {"orient": "top", "values": [0.001,0.002,0.003,0.004,0.005,0.006,0.007,0.008,0.009,0.01,0.02,0.03,0.04,0.05,0.06,0.07,0.08,0.09,0.1,0.2,0.3,0.4,0.5,0.6,0.7,0.8,0.9,1,2,3,4,5,6,7,8,9,10,20,25],
                        "labels": false, "title": null, "domain": true, "domainWidth": 2, "tickWidth": 1.3,
                        "tickSize": {"condition": {"test": "indexof([0.001,0.005,0.01,0.05,0.1,0.5,1,5,10,25], datum.value) >= 0", "value": -6}, "value": -3.5}}},
         "y": {"datum": "present", "type": "nominal", "scale": {"type": "point", "domain": ["present", "future"], "padding": 0.75}, "axis": null},
         "text": {"field": "present", "type": "quantitative", "format": ".1f"}}},
       {"mark": {"type": "text", "fontSize": 11, "text": {"expr": "'(' + format(datum.future, '.1f') + ')'"}},
        "encoding": {"x": {"field": "exc", "type": "quantitative"}, "y": {"datum": "future", "type": "nominal"}}}
      ]}
    ], "spacing": 0},
    {"hconcat": [
     {"width": 25, "height": 48,
      "data": {"name": "curves"},
      "transform": [{"filter": "datum.panel == 'd' && datum.pct == '99.999'"}],
      "encoding": {"y": {"field": "model", "type": "nominal", "scale": {"type": "band", "domain": ["hdr", "n512", "2p2"], "paddingInner": 0, "paddingOuter": 0}, "axis": null}},
      "layer": [
       {"mark": {"type": "rect", "stroke": "black", "strokeWidth": 1}, "encoding": {"fill": {"field": "model", "type": "nominal", "scale": {"domain": ["n512", "2p2"], "range": ["#cc00ff", "#cc0000"]}, "legend": null}}},
       {"mark": {"type": "text", "fontSize": 10}, "encoding": {"text": {"field": "model", "type": "nominal"}, "color": {"field": "model", "type": "nominal", "scale": {"domain": ["n512", "2p2"], "range": ["#ffffff", "#000000"]}, "legend": null}}}
      ]},
     {"width": 481, "height": 48,
      "data": {"name": "curves"},
      "transform": [{"filter": "datum.panel == 'd'"}],
      "encoding": {"x": {"field": "pct", "type": "ordinal", "sort": ["99.999","99.995","99.99","99.95","99.9","99.5","99.0","95.0","90.0","75.0"], "scale": {"paddingInner": 0, "paddingOuter": 0}, "axis": null}},
      "layer": [
       {"transform": [{"filter": "datum.model == 'n512'"}], "mark": {"type": "rect", "fill": "white", "stroke": "black", "strokeWidth": 1},
        "encoding": {"y": {"datum": "hdr", "type": "nominal", "scale": {"type": "band", "domain": ["hdr", "n512", "2p2"], "paddingInner": 0, "paddingOuter": 0}, "axis": null}}},
       {"transform": [{"filter": "datum.model == 'n512'"}], "mark": {"type": "text", "fontSize": 11},
        "encoding": {"y": {"datum": "hdr", "type": "nominal"}, "text": {"field": "pct", "type": "nominal"}}},
       {"mark": {"type": "rect", "fill": "white", "stroke": "black", "strokeWidth": 1}, "encoding": {"y": {"field": "model", "type": "nominal"}}},
       {"mark": {"type": "text", "fontSize": 11, "align": "right", "text": {"expr": "format(datum.ratio, '.2f') + datum.sig"}},
        "encoding": {"y": {"field": "model", "type": "nominal"}, "x": {"field": "pct", "type": "ordinal", "sort": ["99.999","99.995","99.99","99.95","99.9","99.5","99.0","95.0","90.0","75.0"], "bandPosition": 0.93}}}
      ]}
    ], "spacing": 0, "resolve": {"scale": {"color": "independent", "fill": "independent"}, "legend": {"color": "independent", "fill": "independent"}}}
   ], "spacing": 39, "resolve": {"scale": {"color": "independent", "fill": "independent"}, "legend": {"color": "independent", "fill": "independent"}}}
  ], "spacing": 12, "resolve": {"scale": {"color": "independent", "fill": "independent"}, "legend": {"color": "independent", "fill": "independent"}}}
 ], "spacing": 66, "resolve": {"scale": {"color": "independent", "fill": "independent"}, "legend": {"color": "independent", "fill": "independent"}}}
], "spacing": 40, "resolve": {"scale": {"color": "independent", "fill": "independent"}, "legend": {"color": "independent", "fill": "independent"}}
}
